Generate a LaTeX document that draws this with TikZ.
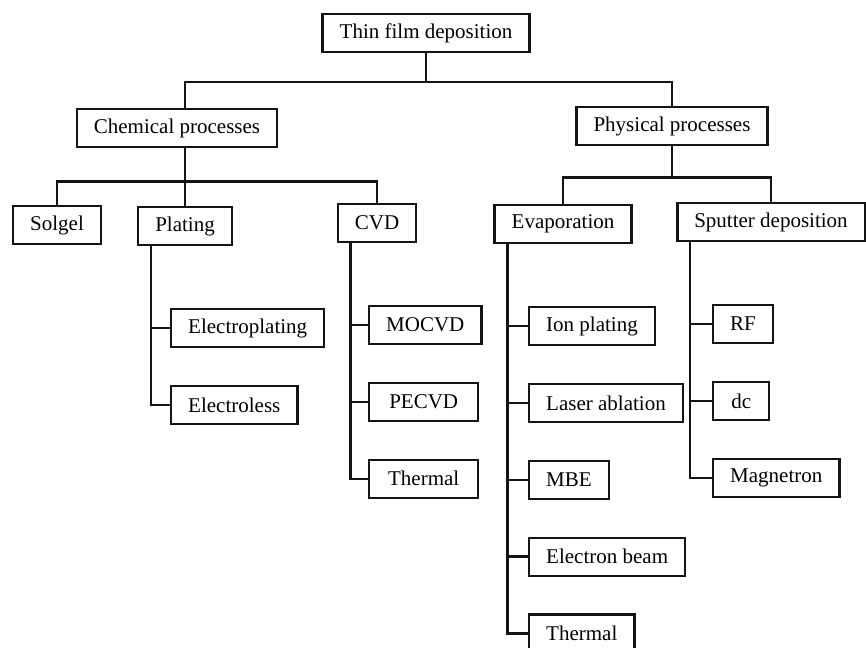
\documentclass[tikz,border=0pt]{standalone}
\usepackage{fontspec}
\setmainfont{Liberation Serif}
\usepackage{tikz}
\usetikzlibrary{positioning, calc}
\definecolor{boxline}{RGB}{20,20,20}
\tikzset{
  treebox/.style={
    rectangle, draw=boxline, line width=2.4pt,
    fill=white,
    minimum height=38pt, inner xsep=17pt, inner ysep=2pt,
    font=\fontsize{21}{24}\selectfont
  },
  leafbox/.style={treebox, anchor=west},
  treeline/.style={draw=boxline, line width=2.6pt}
}

\begin{document}
\begin{tikzpicture}[x=1pt, y=-1pt, node distance=36.5pt]
  \useasboundingbox (0,0) rectangle (866,647);

  \node[treebox] (thin) at (426,33) {Thin film deposition};
  \node[treebox] (chem) at (177,128) {Chemical processes};
  \node[treebox] (phys) at (672,126) {Physical processes};

  \node[treebox] (solgel)  at (57,225)  {Solgel};
  \node[treebox] (plating) at (185,226) {Plating};
  \node[treebox] (cvd)     at (377,223) {CVD};
  \node[treebox] (evap)    at (563,224) {Evaporation};
  \node[treebox] (sputter) at (771,222) {Sputter deposition};

  % plating stack
  \node[leafbox] (eplate) at (170,328) {Electroplating};
  \node[leafbox, below=of eplate.south west, anchor=north west] (eless) {Electroless};

  % cvd stack
  \node[leafbox, minimum width=109pt] (mocvd) at (368,325) {MOCVD};
  \node[leafbox, minimum width=109pt, below=of mocvd.south west, anchor=north west] (pecvd) {PECVD};
  \node[leafbox, minimum width=109pt, below=of pecvd.south west, anchor=north west] (cvdtherm) {Thermal};

  % evaporation stack
  \node[leafbox] (ion) at (528,326) {Ion plating};
  \node[leafbox, below=of ion.south west, anchor=north west] (laser) {Laser ablation};
  \node[leafbox, below=of laser.south west, anchor=north west] (mbe) {MBE};
  \node[leafbox, below=of mbe.south west, anchor=north west] (ebeam) {Electron beam};
  \node[leafbox, below=of ebeam.south west, anchor=north west] (evtherm) {Thermal};

  % sputter stack
  \node[leafbox, minimum width=56pt] (rf) at (712,324) {RF};
  \node[leafbox, minimum width=56pt, below=of rf.south west, anchor=north west] (dc) {dc};
  \node[leafbox, below=of dc.south west, anchor=north west] (magnet) {Magnetron};

  \draw[treeline] (thin.south) -- ++(0,29) -| (plating.north |- chem.north);
  \draw[treeline] (thin.south) -- ++(0,29) -| (phys.north);

  \draw[treeline] (plating.north |- chem.south) -- (plating.north);
  \draw[treeline] (plating.north |- chem.south) -- ++(0,33) -| (solgel.north);
  \draw[treeline] (plating.north |- chem.south) -- ++(0,33) -| (cvd.north);

  \draw[treeline] (phys.south) -- ++(0,31) -| (evap.north);
  \draw[treeline] (phys.south) -- ++(0,31) -| (sputter.north);

  \draw[treeline] ([xshift=14pt]plating.south west) |- (eplate.west);
  \draw[treeline] ([xshift=14pt]plating.south west) |- (eless.west);

  \draw[treeline] ([xshift=14pt]cvd.south west) |- (mocvd.west);
  \draw[treeline] ([xshift=14pt]cvd.south west) |- (pecvd.west);
  \draw[treeline] ([xshift=14pt]cvd.south west) |- (cvdtherm.west);

  \draw[treeline] ([xshift=14pt]evap.south west) |- (ion.west);
  \draw[treeline] ([xshift=14pt]evap.south west) |- (laser.west);
  \draw[treeline] ([xshift=14pt]evap.south west) |- (mbe.west);
  \draw[treeline] ([xshift=14pt]evap.south west) |- (ebeam.west);
  \draw[treeline] ([xshift=14pt]evap.south west) |- (evtherm.west);

  \draw[treeline] ([xshift=14pt]sputter.south west) |- (rf.west);
  \draw[treeline] ([xshift=14pt]sputter.south west) |- (dc.west);
  \draw[treeline] ([xshift=14pt]sputter.south west) |- (magnet.west);
\end{tikzpicture}
\end{document}
